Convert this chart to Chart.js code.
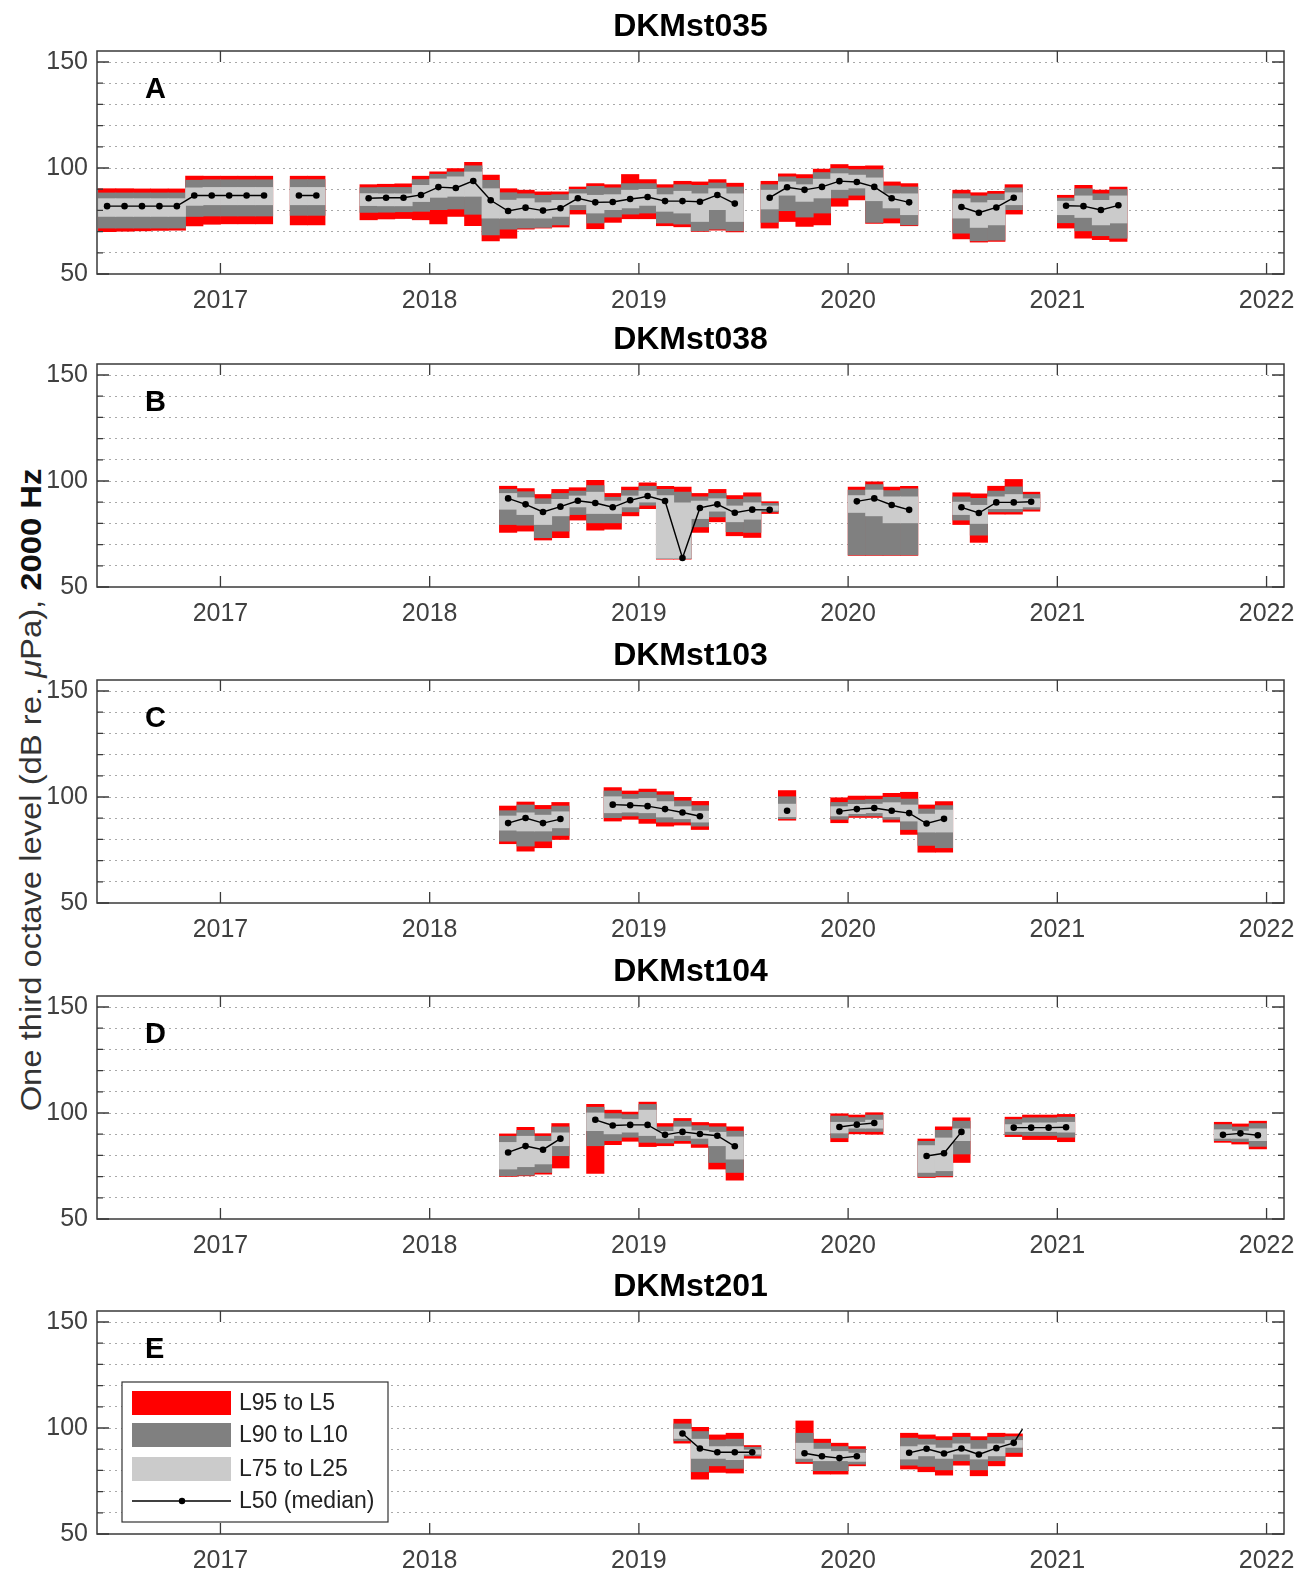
<!DOCTYPE html>
<html><head><meta charset="utf-8">
<script src="https://cdn.jsdelivr.net/npm/chart.js@4.4.1/dist/chart.umd.min.js"></script>
<style>
html,body{margin:0;padding:0;background:#fff;}
body{width:1298px;height:1571px;position:relative;overflow:hidden;font-family:"Liberation Sans",Arial,Helvetica,sans-serif;}
canvas.pc{position:absolute;left:0;}
#ylab{position:absolute;left:31px;top:790px;transform:translate(-50%,-50%) rotate(-90deg) scaleX(1.13);white-space:nowrap;font-size:29px;color:#333;}
#ylab b{color:#111;}
</style></head><body>
<div id="ylab">One third octave level (dB re. <i>μ</i>Pa), <b>2000 Hz</b></div>
<canvas class="pc" id="c0" width="1298" height="313"></canvas>
<canvas class="pc" id="c1" width="1298" height="313"></canvas>
<canvas class="pc" id="c2" width="1298" height="313"></canvas>
<canvas class="pc" id="c3" width="1298" height="313"></canvas>
<canvas class="pc" id="c4" width="1298" height="313"></canvas>
<script>
// ---------- axis ticks / labels ----------
const xTickYears = [2017, 2018, 2019, 2020, 2021, 2022];
const yGridTicks = [50, 60, 70, 80, 90, 100, 110, 120, 130, 140, 150];
const yLabelTicks = [50, 100, 150];
const stationNames = ['DKMst035', 'DKMst038', 'DKMst103', 'DKMst104', 'DKMst201'];
const panelLetters = ['A', 'B', 'C', 'D', 'E'];
const legendLabels = ['L95 to L5', 'L90 to L10', 'L75 to L25', 'L50 (median)'];

// ---------- DKMst035 (A) ----------
const A_months = ['2016-06','2016-07','2016-08','2016-09','2016-10','2016-11','2016-12','2017-01','2017-02','2017-03',
  '2017-05','2017-06','2017-09','2017-10','2017-11','2017-12',
  '2018-01','2018-02','2018-03','2018-04','2018-05','2018-06','2018-07','2018-08','2018-09','2018-10','2018-11','2018-12',
  '2019-01','2019-02','2019-03','2019-04','2019-05','2019-06','2019-08','2019-09','2019-10','2019-11','2019-12',
  '2020-01','2020-02','2020-03','2020-04','2020-07','2020-08','2020-09','2020-10','2021-01','2021-02','2021-03','2021-04'];
const A_L5  = [90.4,90.4,90.3,90.3,90.3, 96.3,96.3,96.3,96.3,96.3, 96.3,96.3, 92.3,92.5,92.7,96.3,
  98.3,99.9,102.8,96.8,90.4,89.7,88.9,88.9,91.2,92.8,92.3,97.1, 94.7,92.3,93.9,93.6,94.7,93.0,
  93.9,97.4,97.1,99.6,101.8, 101.0,101.2,93.6,92.8, 89.7,88.5,89.2,92.3, 87.3,92.0,89.7,91.2];
const A_L10 = [88.4,88.4,88.4,88.4,88.4, 94.4,94.6,94.6,94.6,94.6, 94.7,94.7, 90.9,91.0,91.0,94.7,
  97.2,98.3,101.2,94.4,88.5,88.0,87.3,87.6,90.1,91.5,90.8,92.8, 92.8,90.8,92.3,92.0,93.1,91.2,
  92.3,96.0,95.2,98.0,99.9, 99.4,99.4,91.7,91.2, 88.0,87.0,87.9,90.8, 86.0,90.4,88.0,90.0];
const A_L25 = [85.7,85.7,85.7,85.7,85.7, 90.8,91.0,91.0,91.0,91.0, 91.0,91.0, 88.1,88.0,88.0,92.0,
  95.0,96.0,98.3,90.4,85.0,85.7,83.8,84.9,88.0,87.3,87.6,89.7, 90.1,87.6,89.2,88.0,90.4,88.0,
  89.7,93.6,92.3,94.9,97.5, 96.8,95.5,88.0,88.0, 85.7,83.8,84.9,88.5, 84.5,87.0,84.9,87.0];
const A_L50 = [82.0,82.0,82.0,82.0,82.0, 87.0,87.0,87.0,87.0,87.0, 87.0,87.0, 85.7,86.0,86.0,87.3,
  91.0,90.6,93.9,84.8,79.7,81.3,79.9,81.0,85.7,83.8,84.0,85.4, 86.3,84.4,84.4,84.1,87.3,83.2,
  86.0,90.9,89.7,91.1,93.8, 93.4,91.1,85.7,83.8, 81.6,78.9,81.4,86.0, 82.2,82.0,80.2,82.4];
const A_L75 = [77.0,77.0,77.0,77.0,77.0, 82.2,82.5,82.5,82.5,82.5, 82.5,82.5, 82.1,82.0,82.0,84.0,
  86.0,86.5,86.5,76.2,76.2,76.2,76.2,77.0,82.5,78.6,80.2,81.0, 82.2,79.4,78.6,74.6,80.2,74.6,
  80.5,87.0,84.1,85.7,89.7, 90.4,84.4,81.0,77.8, 76.2,71.8,73.0,82.5, 77.8,76.5,73.0,73.9];
const A_L90 = [71.5,71.5,71.5,71.5,71.5, 77.0,77.2,77.2,77.2,77.2, 77.5,77.5, 78.9,79.0,79.2,79.4,
  80.2,80.5,78.0,68.3,71.0,71.5,71.8,73.0,80.2,73.9,76.7,78.1, 78.6,73.9,73.4,70.2,71.0,70.2,
  74.2,79.7,76.7,78.6,85.7, 87.0,74.2,76.2,73.0, 69.1,65.5,65.8,80.2, 74.0,70.2,67.9,66.7];
const A_L95 = [69.8,70.0,70.2,70.4,70.5, 72.5,73.3,73.5,73.5,73.5, 73.0,73.0, 75.4,75.8,76.0,75.4,
  73.5,77.0,72.7,65.5,66.7,71.0,71.5,72.0,78.1,71.2,74.2,75.9, 75.9,72.6,72.1,69.9,70.5,69.7,
  71.5,74.6,72.3,73.0,81.8, 84.8,73.7,73.9,72.6, 66.4,64.9,65.2,78.1, 71.5,66.7,66.0,65.2];

// ---------- DKMst038 (B) ----------
const B_months = ['2018-05','2018-06','2018-07','2018-08','2018-09','2018-10','2018-11','2018-12',
  '2019-01','2019-02','2019-03','2019-04','2019-05','2019-06','2019-07','2019-08',
  '2020-01','2020-02','2020-03','2020-04','2020-07','2020-08','2020-09','2020-10','2020-11'];
const B_L5  = [97.7,96.6,93.8,96.2,97.0,100.5,94.3,97.3, 99.3,97.7,97.3,94.3,96.2,93.3,94.6,90.4, 97.3,99.8,97.3,97.7, 94.6,94.1,97.7,100.9,94.9];
const B_L10 = [96.2,95.1,91.8,94.3,95.4,98.0,92.5,95.7, 97.7,96.2,94.9,92.7,94.3,91.5,92.7,89.6, 95.9,98.5,95.7,96.5, 92.7,92.0,95.4,97.4,93.8];
const B_L25 = [94.3,92.3,89.2,91.5,93.1,94.9,90.7,93.1, 95.4,93.3,89.9,90.7,91.8,88.4,89.9,88.4, 93.3,95.9,92.7,92.7, 90.2,88.7,92.7,93.8,91.8];
const B_L50 = [91.8,89.0,85.4,87.9,90.7,89.6,87.6,90.9, 92.9,90.6,63.7,87.3,89.0,85.0,86.5,86.4, 90.4,91.8,88.7,86.4, 87.6,84.9,89.9,89.9,90.2];
const B_L75 = [86.5,84.0,79.3,83.4,87.6,84.5,84.5,87.6, 89.9,63.4,63.4,82.1,85.6,80.6,81.8,86.0, 85.0,83.4,80.1,80.1, 84.0,79.8,86.8,86.8,87.6];
const B_L90 = [79.3,79.0,73.1,76.2,84.0,80.1,80.1,85.3, 88.4,63.2,63.2,78.2,82.9,75.9,75.6,85.3, 65.0,65.0,65.0,65.0, 81.4,74.3,85.3,85.3,86.5];
const B_L95 = [75.6,76.2,72.0,73.1,81.4,76.7,77.1,83.4, 86.8,63.0,63.0,75.6,80.6,74.0,73.2,84.5, 64.7,64.7,64.7,64.7, 79.3,70.9,84.2,84.2,85.6];

// ---------- DKMst103 (C) ----------
const C_months = ['2018-05','2018-06','2018-07','2018-08','2018-11','2018-12','2019-01','2019-02','2019-03','2019-04',
  '2019-09','2019-12','2020-01','2020-02','2020-03','2020-04','2020-05','2020-06'];
const C_L5  = [95.9,97.8,96.2,97.6, 104.6,103.0,103.9,102.7,100.0,98.1, 103.2, 99.8,100.6,100.6,101.9,102.4,96.4,98.0];
const C_L10 = [93.7,96.4,94.3,95.9, 103.0,101.4,102.4,101.1,98.3,96.1, 100.3, 97.6,98.7,99.0,100.0,99.2,94.5,96.1];
const C_L25 = [91.2,92.7,91.6,93.2, 100.3,99.2,99.5,98.0,95.6,93.5, 96.8, 95.6,96.7,96.8,97.5,96.4,92.1,94.0];
const C_L50 = [87.7,90.1,87.7,89.6, 96.4,96.1,95.7,94.3,92.7,90.9, 93.5, 93.2,94.3,94.8,93.5,92.4,87.5,89.7];
const C_L75 = [84.2,83.8,83.8,85.3, 92.4,92.7,92.4,90.4,89.6,88.0, 90.5, 90.9,92.0,92.4,90.5,88.5,83.3,83.3];
const C_L90 = [79.0,76.7,79.0,81.7, 90.1,90.9,89.6,88.0,88.0,86.1, 89.6, 89.3,90.9,90.9,89.3,84.5,77.0,75.9];
const C_L95 = [77.8,74.3,75.9,79.8, 88.5,89.3,87.4,86.1,86.6,84.5, 88.9, 87.7,90.2,90.2,88.0,82.2,73.8,73.8];

// ---------- DKMst104 (D) ----------
const D_months = ['2018-05','2018-06','2018-07','2018-08','2018-10','2018-11','2018-12','2019-01','2019-02','2019-03',
  '2019-04','2019-05','2019-06','2019-12','2020-01','2020-02','2020-05','2020-06','2020-07',
  '2020-10','2020-11','2020-12','2021-01','2021-10','2021-11','2021-12'];
const D_L5  = [90.3,93.4,90.4,95.2, 104.2,101.5,100.6,105.3,95.2,97.6,95.7,95.2,93.6, 99.8,99.2,100.3, 87.9,93.6,97.9, 98.2,99.2,99.2,99.5, 95.8,95.0,96.3];
const D_L10 = [89.2,92.0,89.2,93.6, 102.9,99.9,99.4,104.2,93.6,96.3,94.2,93.6,91.6, 98.7,98.0,99.2, 86.8,92.0,96.3, 97.1,97.9,97.9,98.2, 94.7,93.6,95.2];
const D_L25 = [86.3,89.2,86.8,90.8, 100.2,97.4,97.1,101.5,91.5,93.6,91.8,91.1,88.9, 95.8,95.8,96.8, 84.8,88.4,92.7, 94.7,95.5,95.5,95.8, 92.3,91.6,92.7];
const D_L50 = [81.4,84.4,82.7,87.9, 96.8,94.1,94.4,94.4,89.7,91.1,90.1,89.3,84.3, 93.4,94.5,95.3, 79.7,81.0,91.1, 93.1,93.1,93.1,93.3, 89.7,90.4,89.5];
const D_L75 = [73.4,74.5,75.8,84.4, 91.5,90.0,90.8,89.2,87.9,89.2,87.9,84.4,78.1, 90.4,92.7,92.7, 71.8,72.6,86.8, 91.1,91.1,91.1,90.8, 87.9,87.9,86.8];
const D_L90 = [70.2,70.5,71.8,79.7, 84.4,86.8,88.4,86.0,85.7,86.8,85.2,76.5,71.8, 88.1,91.1,91.1, 69.9,70.2,80.5, 89.7,89.2,89.2,88.4, 86.8,86.3,84.1];
const D_L95 = [69.9,70.2,71.0,73.9, 71.3,84.9,86.5,84.0,84.4,85.5,83.6,73.4,68.2, 86.3,90.0,89.8, 69.4,69.7,76.5, 88.7,87.3,87.3,86.3, 86.0,85.2,82.9];

// ---------- DKMst201 (E) ----------
const E_months = ['2019-03','2019-04','2019-05','2019-06','2019-07','2019-10','2019-11','2019-12','2020-01',
  '2020-04','2020-05','2020-06','2020-07','2020-08','2020-09','2020-10'];
const E_L5  = [104.3,100.5,96.9,97.7,91.9, 103.5,94.9,93.0,91.4, 97.7,96.9,96.1,97.7,96.1,97.7,97.4];
const E_L10 = [102.1,98.5,94.5,94.9,91.1, 97.7,93.0,91.4,90.2, 95.4,94.9,94.3,95.8,94.3,95.8,96.1];
const E_L25 = [99.6,94.9,91.4,91.4,89.8, 93.0,90.2,89.1,88.3, 91.4,92.2,90.7,92.7,90.2,92.7,94.3];
const E_L50 = [97.4,90.3,88.6,88.6,88.6, 88.1,86.7,85.8,86.7, 88.3,90.2,88.0,90.3,87.5,90.5,93.0];
const E_L75 = [94.9,85.5,85.5,84.9,87.5, 85.5,84.4,84.4,84.1, 85.2,86.7,85.5,87.5,85.2,86.7,90.7];
const E_L90 = [93.8,79.2,82.0,80.8,86.7, 83.9,79.7,79.7,82.8, 82.3,81.7,80.1,84.4,80.1,84.4,88.3];
const E_L95 = [92.7,75.7,78.9,78.6,85.6, 83.1,78.1,78.1,82.0, 80.5,79.2,77.6,82.3,77.3,82.0,86.4];
// median line leaves the last block towards the upper right (end of Oct 2020)
const E_tail = { date: 2020 + 10 / 12, L50: 99.5 };

const panelData = [
  { m: A_months, l5: A_L5, l10: A_L10, l25: A_L25, l50: A_L50, l75: A_L75, l90: A_L90, l95: A_L95, tail: null },
  { m: B_months, l5: B_L5, l10: B_L10, l25: B_L25, l50: B_L50, l75: B_L75, l90: B_L90, l95: B_L95, tail: null },
  { m: C_months, l5: C_L5, l10: C_L10, l25: C_L25, l50: C_L50, l75: C_L75, l90: C_L90, l95: C_L95, tail: null },
  { m: D_months, l5: D_L5, l10: D_L10, l25: D_L25, l50: D_L50, l75: D_L75, l90: D_L90, l95: D_L95, tail: null },
  { m: E_months, l5: E_L5, l10: E_L10, l25: E_L25, l50: E_L50, l75: E_L75, l90: E_L90, l95: E_L95, tail: E_tail }
];

// ---------- styling ----------
const FONT = '"Liberation Sans", Arial, Helvetica, sans-serif';
const C_RED = '#ff0000', C_DARK = '#808080', C_LIGHT = '#cbcbcb';
const plotTops = [51, 364, 680, 996, 1311];
const PAD_TOP = 50, PLOT_H = 223, XAX_H = 40;

Chart.defaults.font.family = FONT;

function monthIndex(s) { const [y, m] = s.split('-').map(Number); return y * 12 + (m - 1); }
function monthCenter(s) { const [y, m] = s.split('-').map(Number); return y + (m - 1 + 0.5) / 12; }

function band(months, lo, hi, color, order) {
  return {
    type: 'bar', order,
    data: months.map((m, i) => ({ x: monthCenter(m), y: [lo[i], hi[i]] })),
    backgroundColor: color, borderWidth: 0, borderSkipped: false,
    barPercentage: 1.04, categoryPercentage: 1, grouped: false
  };
}

function medianLine(pd) {
  const pts = [];
  let prev = null;
  pd.m.forEach((m, i) => {
    const idx = monthIndex(m);
    if (prev !== null && idx - prev > 1) pts.push({ x: (monthCenter(pd.m[i - 1]) + monthCenter(m)) / 2, y: null });
    pts.push({ x: monthCenter(m), y: pd.l50[i] });
    prev = idx;
  });
  if (pd.tail) pts.push({ x: pd.tail.date, y: pd.tail.L50, tail: true });
  return {
    type: 'line', order: 0, data: pts,
    borderColor: '#000', borderWidth: 1.4, tension: 0, spanGaps: false,
    pointRadius: (ctx) => (ctx.raw && ctx.raw.tail) ? 0 : 3.3,
    pointBackgroundColor: '#000', pointBorderWidth: 0, pointHoverRadius: 0
  };
}

const decoPlugin = {
  id: 'deco',
  afterDatasetsDraw(chart, args, opts) {
    const { ctx, chartArea: a, scales: { x, y } } = chart;
    ctx.save();
    // frame
    ctx.strokeStyle = '#3a3a3a';
    ctx.lineWidth = 1.5;
    ctx.strokeRect(a.left, a.top, a.right - a.left, a.bottom - a.top);
    // inward tick marks on all four sides
    ctx.lineWidth = 1.3;
    ctx.beginPath();
    for (const t of y.ticks) {
      const py = y.getPixelForValue(t.value);
      const len = yLabelTicks.includes(t.value) ? 12 : 6;
      ctx.moveTo(a.left, py); ctx.lineTo(a.left + len, py);
      ctx.moveTo(a.right, py); ctx.lineTo(a.right - len, py);
    }
    for (const t of x.ticks) {
      const px = x.getPixelForValue(t.value);
      ctx.moveTo(px, a.bottom); ctx.lineTo(px, a.bottom - 11);
      ctx.moveTo(px, a.top); ctx.lineTo(px, a.top + 11);
    }
    ctx.stroke();
    // title
    ctx.fillStyle = '#000';
    ctx.textAlign = 'center';
    ctx.textBaseline = 'alphabetic';
    ctx.font = 'bold 32px ' + FONT;
    ctx.fillText(opts.title, (a.left + a.right) / 2, a.top - 15);
    // panel letter
    ctx.textAlign = 'left';
    ctx.font = 'bold 29px ' + FONT;
    ctx.fillText(opts.letter, a.left + 48, a.top + 47);
    // legend
    if (opts.legend) {
      const lx = a.left + 25, ly = a.top + 71;
      ctx.fillStyle = '#fff';
      ctx.fillRect(lx, ly, 266, 140);
      ctx.strokeStyle = '#333';
      ctx.lineWidth = 1.2;
      ctx.strokeRect(lx, ly, 266, 140);
      const sx = a.left + 35, sw = 99;
      const rows = [[C_RED, 80], [C_DARK, 112], [C_LIGHT, 146]];
      rows.forEach(([c, ry]) => { ctx.fillStyle = c; ctx.fillRect(sx, a.top + ry, sw, 24); });
      const lyLine = a.top + 190;
      ctx.strokeStyle = '#000'; ctx.lineWidth = 1.4;
      ctx.beginPath(); ctx.moveTo(sx, lyLine); ctx.lineTo(sx + sw, lyLine); ctx.stroke();
      ctx.fillStyle = '#000';
      ctx.beginPath(); ctx.arc(sx + 50, lyLine, 3.2, 0, Math.PI * 2); ctx.fill();
      ctx.fillStyle = '#222';
      ctx.font = '23px ' + FONT;
      ctx.textBaseline = 'middle';
      const ty = [92, 124, 158, 190];
      legendLabels.forEach((t, i) => ctx.fillText(t, a.left + 142, a.top + ty[i] + 1));
    }
    ctx.restore();
  }
};

panelData.forEach((pd, k) => {
  const cv = document.getElementById('c' + k);
  cv.style.top = (plotTops[k] - PAD_TOP) + 'px';
  new Chart(cv, {
    type: 'bar',
    data: {
      datasets: [
        medianLine(pd),
        band(pd.m, pd.l75, pd.l25, C_LIGHT, 1),
        band(pd.m, pd.l90, pd.l10, C_DARK, 2),
        band(pd.m, pd.l95, pd.l5, C_RED, 3)
      ]
    },
    options: {
      responsive: false, animation: false, events: [],
      layout: { padding: { top: PAD_TOP, left: 0, right: 14, bottom: 0 } },
      plugins: {
        legend: { display: false }, tooltip: { enabled: false }, title: { display: false },
        deco: { title: stationNames[k], letter: panelLetters[k], legend: k === 4 }
      },
      scales: {
        x: {
          type: 'linear', min: 2016.41, max: 2022 + 1 / 12, offset: false,
          afterBuildTicks: (s) => { s.ticks = xTickYears.map(v => ({ value: v })); },
          afterFit: (s) => { s.height = XAX_H; s.paddingLeft = 0; s.paddingRight = 0; },
          ticks: { autoSkip: false, maxRotation: 0, padding: 12, color: '#404040', font: { size: 25 }, callback: (v) => String(v) },
          grid: { display: false, drawTicks: false },
          border: { display: false }
        },
        y: {
          type: 'linear', min: 50, max: 155.2,
          afterBuildTicks: (s) => { s.ticks = yGridTicks.map(v => ({ value: v })); },
          afterFit: (s) => { s.width = 97; s.paddingTop = 0; s.paddingBottom = 0; },
          ticks: { autoSkip: false, padding: 9, color: '#404040', font: { size: 25 }, callback: (v) => yLabelTicks.includes(v) ? String(v) : '' },
          grid: { drawTicks: false, lineWidth: 1, color: (c) => (c.tick && c.tick.value > 50) ? '#a9a9a9' : 'rgba(0,0,0,0)' },
          border: { display: false, dash: [2, 4] }
        }
      }
    },
    plugins: [decoPlugin]
  });
});
</script>
</body></html>
